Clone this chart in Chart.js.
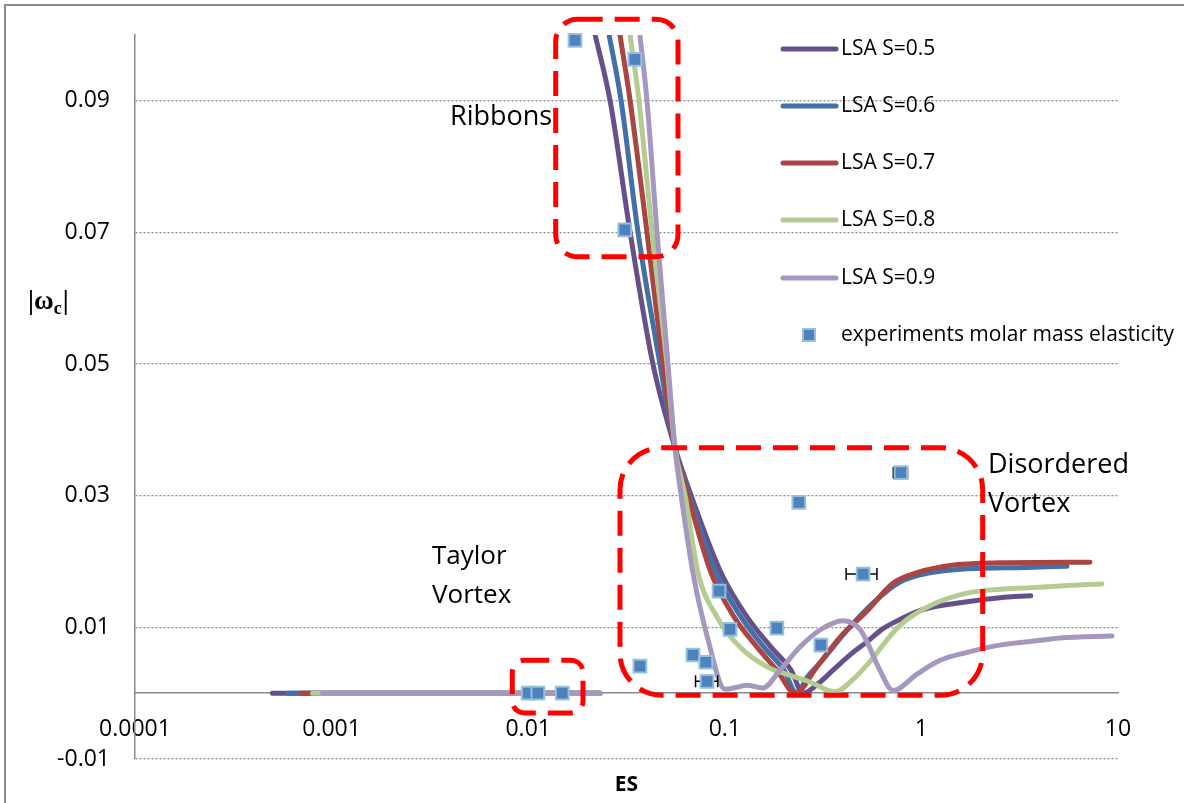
<!DOCTYPE html>
<html>
<head>
<meta charset="utf-8">
<script src="https://cdn.jsdelivr.net/npm/chart.js@4.4.0/dist/chart.umd.min.js"></script>
<style>
  html, body { margin: 0; padding: 0; background: #fff; }
</style>
</head>
<body>
<canvas id="chart" width="1184" height="803"></canvas>
<script>
// series names and colours
const lsaLabels = ["LSA S=0.5", "LSA S=0.6", "LSA S=0.7", "LSA S=0.8", "LSA S=0.9"];
const lsaColors = ["#66508A", "#4270A9", "#AA4542", "#B4CB91", "#A597BF"];
const expLabel = "experiments molar mass elasticity";

// ES and |omega_c| for each LSA curve (null = break between flat part and branch)
const es05 = [0.0005, 0.0232, 0.0232, 0.0183, 0.0219, 0.0261, 0.0330, 0.0431, 0.0558, 0.0675, 0.0957, 0.1297, 0.1718, 0.2173, 0.250, 0.30, 0.355, 0.449, 0.529, 0.638, 0.778, 0.950, 1.146, 1.706, 2.51, 3.6];
const w05  = [0, 0, null, 0.11, 0.1, 0.09, 0.07, 0.05, 0.0373, 0.030, 0.0183, 0.0116, 0.0070, 0.0035, 0, 0.0015, 0.0035, 0.0062, 0.0078, 0.0098, 0.0112, 0.0124, 0.0131, 0.0139, 0.0145, 0.0148];

const es06 = [0.0006, 0.0232, 0.0232, 0.0223, 0.0258, 0.0297, 0.0362, 0.0468, 0.0558, 0.0660, 0.0902, 0.1208, 0.1582, 0.200, 0.232, 0.262, 0.305, 0.419, 0.567, 0.778, 1.067, 1.706, 3.45, 5.5];
const w06  = [0, 0, null, 0.11, 0.1, 0.09, 0.07, 0.05, 0.0373, 0.030, 0.0183, 0.0116, 0.0070, 0.0035, 0, 0.0024, 0.0046, 0.0096, 0.0137, 0.0169, 0.0182, 0.0189, 0.0191, 0.0193];

const es07 = [0.0007, 0.0232, 0.0232, 0.026, 0.0293, 0.0330, 0.0402, 0.0485, 0.0558, 0.0650, 0.0851, 0.1114, 0.1459, 0.184, 0.228, 0.294, 0.386, 0.529, 0.717, 0.950, 1.398, 2.51, 7.2];
const w07  = [0, 0, null, 0.11, 0.1, 0.09, 0.07, 0.05, 0.0373, 0.030, 0.0183, 0.0116, 0.0070, 0.0035, 0, 0.0040, 0.0085, 0.0125, 0.0167, 0.0183, 0.0194, 0.0198, 0.0199];

const es08 = [0.0008, 0.0232, 0.0232, 0.0299, 0.0330, 0.0366, 0.0427, 0.0508, 0.0558, 0.0628, 0.0731, 0.0912, 0.1194, 0.164, 0.215, 0.271, 0.364, 0.449, 0.529, 0.778, 1.146, 1.706, 2.51, 3.45, 5.07, 8.29];
const w08  = [0, 0, null, 0.11, 0.1, 0.09, 0.07, 0.05, 0.0373, 0.030, 0.0183, 0.0116, 0.0070, 0.0040, 0.0027, 0.0017, 0.0002, 0.0021, 0.0043, 0.0103, 0.0135, 0.0152, 0.0158, 0.0160, 0.0163, 0.0166];

const es09 = [0.0009, 0.0232, 0.0232, 0.034, 0.0370, 0.0402, 0.0452, 0.0514, 0.0558, 0.060, 0.0689, 0.0822, 0.1002, 0.1153, 0.1297, 0.1564, 0.191, 0.241, 0.305, 0.399, 0.487, 0.529, 0.615, 0.717, 0.950, 1.245, 1.706, 2.51, 3.45, 5.07, 9.33];
const w09  = [0, 0, null, 0.11, 0.1, 0.09, 0.07, 0.05, 0.0373, 0.030, 0.0183, 0.0081, 0.0006, 0.0009, 0.0012, 0.0008, 0.0035, 0.0070, 0.0096, 0.0110, 0.0097, 0.0078, 0.0035, 0.0004, 0.0029, 0.0050, 0.0062, 0.0073, 0.0078, 0.0084, 0.0087];

// experiments
const expES = [0.0173, 0.0349, 0.0310, 0.0100, 0.0112, 0.0149, 0.0370, 0.0689, 0.0801, 0.0812, 0.0935, 0.1062, 0.184, 0.238, 0.308, 0.505, 0.787];
const expW  = [0.0992, 0.0963, 0.0704, 0, 0, 0, 0.0041, 0.0058, 0.0047, 0.0018, 0.0155, 0.0097, 0.0099, 0.0290, 0.0073, 0.0181, 0.0335];
const expErrLow  = [null, null, null, null, null, null, null, null, null, 0.071, null, null, null, null, null, 0.414, 0.72];
const expErrHigh = [null, null, null, null, null, null, null, null, null, 0.092, null, null, null, null, null, 0.594, 0.85];

// axes
const xTicks = [0.0001, 0.001, 0.01, 0.1, 1, 10];
const xTickLabels = ["0.0001", "0.001", "0.01", "0.1", "1", "10"];
const yTicks = [-0.01, 0.01, 0.03, 0.05, 0.07, 0.09];

// red dashed regions, in data units: [ES left, ES right, w top, w bottom, corner radius px]
const regions = [
  [0.0138, 0.0578, 0.1024, 0.0663, 22],
  [0.0083, 0.0190, 0.0050, -0.0030, 12],
  [0.0293, 2.05, 0.0373, -0.0003, 42]
];

const FONT = "'Open Sans', 'DejaVu Sans', sans-serif";

function pairs(xs, ys) {
  return xs.map((v, i) => ({ x: v, y: ys[i] }));
}

const lsaData = [pairs(es05, w05), pairs(es06, w06), pairs(es07, w07), pairs(es08, w08), pairs(es09, w09)];

const datasets = lsaData.map((d, i) => ({
  label: lsaLabels[i],
  data: d,
  showLine: true,
  borderColor: lsaColors[i],
  backgroundColor: lsaColors[i],
  borderWidth: 5,
  borderCapStyle: "round",
  borderJoinStyle: "round",
  pointRadius: 0,
  cubicInterpolationMode: "monotone",
  spanGaps: false,
  order: 5 - i
}));

datasets.push({
  label: expLabel,
  data: pairs(expES, expW),
  showLine: false,
  pointStyle: "rect",
  pointRadius: 9,
  backgroundColor: "#4F81BD",
  borderColor: "#93C1DC",
  borderWidth: 2,
  clip: 12,
  order: 0
});

const overlay = {
  id: "overlay",
  beforeDatasetDraw(chart, args) {
    if (args.index !== 5) return;
    const { ctx, scales: { x, y } } = chart;
    ctx.save();
    ctx.strokeStyle = "#000";
    ctx.lineWidth = 1.5;
    expES.forEach((v, i) => {
      if (expErrLow[i] == null) return;
      const x1 = x.getPixelForValue(expErrLow[i]);
      const x2 = x.getPixelForValue(expErrHigh[i]);
      const py = y.getPixelForValue(expW[i]);
      ctx.beginPath();
      ctx.moveTo(x1, py); ctx.lineTo(x2, py);
      ctx.moveTo(x1, py - 6); ctx.lineTo(x1, py + 6);
      ctx.moveTo(x2, py - 6); ctx.lineTo(x2, py + 6);
      ctx.stroke();
    });
    ctx.restore();
  },
  afterDraw(chart) {
    const { ctx, scales: { x, y }, chartArea } = chart;
    ctx.save();

    // outer frame
    ctx.strokeStyle = "#8a8a8a";
    ctx.lineWidth = 2;
    ctx.strokeRect(5, 5, 1300, 1000);

    // dashed regions
    ctx.strokeStyle = "#FF0000";
    ctx.lineWidth = 5;
    ctx.setLineDash([25, 12]);
    regions.forEach(r => {
      const l = x.getPixelForValue(r[0]), rt = x.getPixelForValue(r[1]);
      const t = y.getPixelForValue(r[2]), b = y.getPixelForValue(r[3]);
      ctx.beginPath();
      ctx.roundRect(l, t, rt - l, b - t, r[4]);
      ctx.stroke();
    });
    ctx.setLineDash([]);

    // region labels
    ctx.fillStyle = "#000";
    ctx.textBaseline = "middle";
    ctx.textAlign = "left";
    ctx.font = "27px " + FONT;
    ctx.fillText("Ribbons", 450, 117);
    ctx.font = "26px " + FONT;
    ctx.fillText("Taylor", 432, 557);
    ctx.fillText("Vortex", 432, 596);
    ctx.font = "27px " + FONT;
    ctx.fillText("Disordered", 988, 465);
    ctx.fillText("Vortex", 988, 504);

    // axis titles
    ctx.font = "bold 21px " + FONT;
    ctx.textAlign = "center";
    ctx.fillText("ES", (chartArea.left + chartArea.right) / 2, 785);

    ctx.textAlign = "left";
    ctx.textBaseline = "alphabetic";
    let tx = 28;
    ctx.font = "bold 27px 'Liberation Serif', serif";
    ctx.fillText("|\u03c9", tx, 309);
    tx += ctx.measureText("|\u03c9").width;
    ctx.font = "bold 18px 'Liberation Serif', serif";
    ctx.fillText("c", tx, 314);
    tx += ctx.measureText("c").width + 1;
    ctx.font = "bold 27px 'Liberation Serif', serif";
    ctx.fillText("|", tx, 309);

    // legend
    const rows = [49, 106, 163, 220, 278, 335];
    ctx.font = "21px " + FONT;
    ctx.textBaseline = "middle";
    lsaLabels.forEach((lab, i) => {
      ctx.strokeStyle = lsaColors[i];
      ctx.lineWidth = 5;
      ctx.lineCap = "round";
      ctx.beginPath();
      ctx.moveTo(783, rows[i]);
      ctx.lineTo(836, rows[i]);
      ctx.stroke();
      ctx.fillStyle = "#000";
      ctx.fillText(lab, 841, rows[i]);
    });
    ctx.fillStyle = "#93C1DC";
    ctx.fillRect(802, rows[5] - 7, 14, 14);
    ctx.fillStyle = "#4F81BD";
    ctx.fillRect(804, rows[5] - 5, 10, 10);
    ctx.fillStyle = "#000";
    ctx.fillText(expLabel, 841, rows[5]);

    ctx.restore();
  }
};

function noPad(s) {
  s.paddingTop = 0;
  s.paddingBottom = 0;
  s.paddingLeft = 0;
  s.paddingRight = 0;
}

new Chart(document.getElementById("chart"), {
  type: "scatter",
  data: { datasets },
  options: {
    responsive: false,
    animation: false,
    layout: { padding: { left: 0, top: 35, right: 66, bottom: 44 } },
    plugins: { legend: { display: false }, tooltip: { enabled: false } },
    scales: {
      x: {
        type: "logarithmic",
        min: 0.0001,
        max: 10,
        position: { y: 0 },
        afterBuildTicks: s => { s.ticks = xTicks.map(v => ({ value: v })); },
        afterFit: s => { s.height = 0; noPad(s); },
        grid: { display: true, drawOnChartArea: false, drawTicks: false },
        border: { display: true, color: "#8a8a8a", width: 1.5 },
        ticks: {
          autoSkip: false, maxRotation: 0, minRotation: 0, padding: 22, color: "#000",
          font: { family: FONT, size: 23 },
          callback: (v, i) => xTickLabels[i]
        }
      },
      y: {
        min: -0.01,
        max: 0.1,
        position: "left",
        afterBuildTicks: s => { s.ticks = yTicks.map(v => ({ value: v })); },
        afterFit: s => { s.width = 135; noPad(s); },
        grid: { color: "#8c8c8c", lineWidth: 1.3, drawTicks: false },
        border: { display: true, color: "#8a8a8a", width: 1.5, dash: [2, 2] },
        ticks: {
          padding: 25, color: "#000",
          font: { family: FONT, size: 23 },
          callback: v => v.toFixed(2)
        }
      }
    }
  },
  plugins: [overlay]
});
</script>
</body>
</html>
